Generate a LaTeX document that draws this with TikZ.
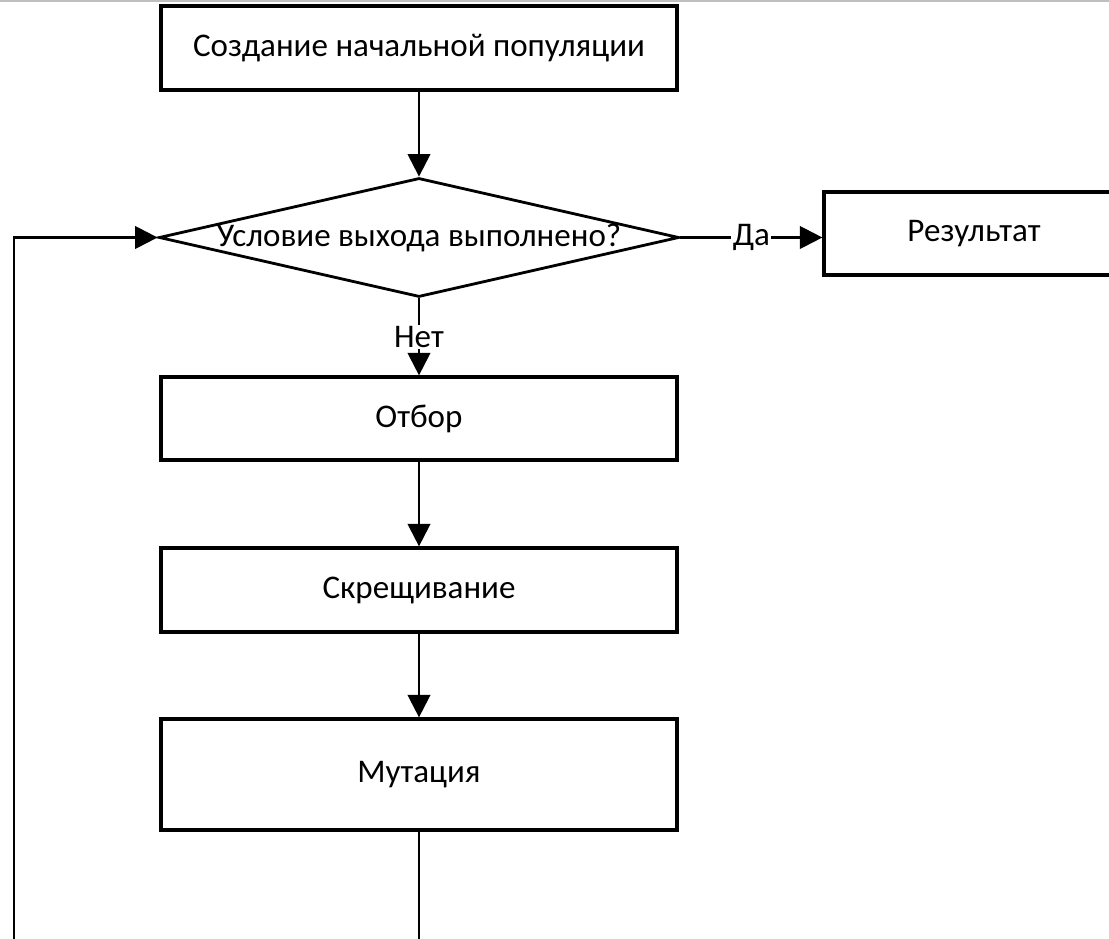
\documentclass[tikz,border=0pt]{standalone}
\usepackage{fontspec}
\setmainfont{Carlito}
\usetikzlibrary{shapes.geometric, arrows.meta}
\tikzset{
  txt/.style={font=\fontsize{23.5}{28}\selectfont},
  blk/.style={draw, line width=2.3pt, minimum width=12.9cm, txt},
  cond/.style={draw, diamond, line width=2pt, inner sep=0pt, minimum width=13cm, minimum height=2.975cm},
  arr/.style={line width=1.7pt, -{Triangle[length=16pt,width=16pt]}},
  lbl/.style={fill=white, inner sep=1pt, txt}
}

\begin{document}
\begin{tikzpicture}
\clip (0,0) rectangle (27.725,-23.475);
\fill[gray!50] (0,0) rectangle (27.725,-0.06);
\node[blk, minimum height=2.1cm] (init) at (10.475,-1.2) {Создание начальной популяции};
\node[cond, label={[txt]center:Условие выхода выполнено?}] (exit) at (10.475,-5.9375) {};
\node[blk, minimum width=7.5cm, minimum height=2.075cm] (res) at (24.35,-5.84) {Результат};
\node[blk, minimum height=2.075cm] (sel) at (10.475,-10.4625) {Отбор};
\node[blk, minimum height=2.1cm] (cross) at (10.475,-14.75) {Скрещивание};
\node[blk, minimum height=2.775cm] (mut) at (10.475,-19.3625) {Мутация};
\coordinate (loopdown) at (10.475,-24.5);
\coordinate (loopleft) at (0.35,-24.5);
\draw[arr] (init) -- (exit);
\draw[arr] (exit.east) -- node[lbl]{Да} (exit.east -| res.west);
\draw[arr] (exit) -- node[lbl]{Нет} (sel);
\draw[arr] (sel) -- (cross);
\draw[arr] (cross) -- (mut);
\draw[arr] (mut) -- (loopdown) -- (loopleft) |- (exit.west);
\end{tikzpicture}
\end{document}
